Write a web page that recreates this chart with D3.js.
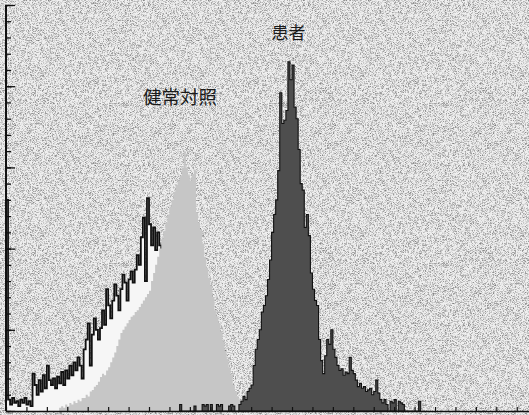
<!DOCTYPE html>
<html><head><meta charset="utf-8">
<script src="https://cdn.jsdelivr.net/npm/d3@7"></script>
<style>
html,body{margin:0;padding:0;background:#fff;}
svg{display:block;}
</style></head>
<body>
<svg id="c" width="529" height="415"></svg>
<script>
// ---- data (channel counts) ----
const channelCount = 256;
const yMax = 250;
const yTicksMinor = d3.range(0, 251, 10);
const yTicksMajor = d3.range(0, 251, 50);
const xTicks = d3.range(0, 256, 10);

const labelControl = "健常対照";
const labelPatient = "患者";

// outlined histogram (starts at channel 0)
const outlineStart = 0;
const outlineCounts = [130,7,4,8,5,6,3,7,5,8,4,6,3,23,16,10,19,12,22,14,28,19,16,20,14,21,17,24,16,25,20,28,22,30,25,33,28,20,38,44,54,28,47,57,50,44,51,62,53,75,65,57,68,78,71,62,75,84,79,68,81,86,79,87,96,90,107,119,80,131,115,102,113,99,110,102,96,95,92,85,80,72,65,55,45,35,25,15,8,4,2];

// healthy control histogram (starts at channel 26)
const controlStart = 26;
const controlCounts = [2,3,2,4,3,5,4,6,5,7,6,8,8,10,9,12,13,15,16,18,
  21,23,22,25,27,30,33,36,40,44,
  48,50,52,54,56,58,59,61,62,64,
  66,68,70,72,74,80,85,90,95,100,
  106,111,116,121,126,130,135,139,142,145,
  150,160,150,145,142,146,148,
  122,116,111,103,95,88,82,77,70,62,58,54,49,43,37,32,27,22,16,12,9,7,5,3,2];

// patient histogram (starts at channel 85)
const patientStart = 85;
const patientCounts = [4,0,0,0,0,0,0,3,0,0,0,4,3,4,0,4,0,0,4,3,4,0,0,0,3,4,3,0,0,4,6,
  9,7,12,14,16,28,38,44,50,61,65,71,81,93,110,121,130,148,196,177,179,185,215,204,213,187,180,161,140,136,113,121,108,85,75,68,65,44,31,23,34,44,41,50,38,33,28,25,26,22,24,23,33,25,23,19,15,17,14,15,12,13,14,10,12,19,11,7,
  5,7,4,0,6,5,7,0,6,5,4,0,0,0,0,0,0,0,6];

// ---- drawing ----
const W = 529, H = 415;
const svg = d3.select("#c");
const x = d3.scaleLinear().domain([0, channelCount]).range([6, 529]);
const y = d3.scaleLinear().domain([0, yMax]).range([411, 5]);

function toPoints(start, counts){
  const pts = counts.map((v,i)=>[start+i, v]);
  pts.unshift([start, 0]);
  pts.push([start+counts.length, 0]);
  return pts;
}
const area = d3.area().curve(d3.curveStepAfter).x(d=>x(d[0])).y0(y(0)).y1(d=>y(d[1]));
const line = d3.line().curve(d3.curveStepAfter).x(d=>x(d[0])).y(d=>y(d[1]));

// background with a fine speckle texture
const defs = svg.append("defs");
const f = defs.append("filter").attr("id","speck").attr("x",0).attr("y",0).attr("width","100%").attr("height","100%");
f.append("feTurbulence").attr("type","fractalNoise").attr("baseFrequency",1.6).attr("numOctaves",1).attr("seed",3).attr("result","n");
f.append("feColorMatrix").attr("in","n").attr("type","matrix")
  .attr("values","0 0 0 0 0  0 0 0 0 0  0 0 0 0 0  0 0 0 -2.4 1.35").attr("result","a");
f.append("feComposite").attr("in","a").attr("in2","SourceGraphic").attr("operator","in");

svg.append("rect").attr("width",W).attr("height",H).attr("fill","#efefef");
svg.append("rect").attr("width",W).attr("height",H).attr("fill","#999").attr("filter","url(#speck)").attr("opacity",0.55);

const outlinePts = toPoints(outlineStart, outlineCounts);
const controlPts = toPoints(controlStart, controlCounts);
const patientPts = toPoints(patientStart, patientCounts);

svg.append("path").attr("d", area(outlinePts)).attr("fill","#f6f6f6");
svg.append("path").attr("d", line(outlinePts.slice(1))).attr("fill","none").attr("stroke","#111").attr("stroke-width",1.8);
svg.append("path").attr("d", area(controlPts)).attr("fill","#c6c6c6");
svg.append("path").attr("d", area(patientPts)).attr("fill","#4e4e4e").attr("stroke","#111").attr("stroke-width",1.1);

// axes
const yAxisMinor = d3.axisRight(y).tickValues(yTicksMinor).tickSize(5).tickFormat("");
const yAxisMajor = d3.axisRight(y).tickValues(yTicksMajor).tickSize(9).tickFormat("");
const gy = svg.append("g").attr("transform","translate(6,0)").call(yAxisMinor);
const gy2 = svg.append("g").attr("transform","translate(6,0)").call(yAxisMajor);
[gy,gy2].forEach(g=>{ g.selectAll("line").attr("stroke","#111").attr("stroke-width",1.3); g.select(".domain").remove(); });
svg.append("line").attr("x1",6).attr("x2",6).attr("y1",y(yMax)).attr("y2",y(0)).attr("stroke","#111").attr("stroke-width",2);

const xAxis = d3.axisTop(x).tickValues(xTicks).tickSize(4).tickFormat("");
const gx = svg.append("g").attr("transform",`translate(0,${y(0)})`).call(xAxis);
gx.selectAll("line").attr("stroke","#111").attr("stroke-width",1.2);
gx.select(".domain").remove();
svg.append("line").attr("x1",6).attr("x2",529).attr("y1",y(0)+0.5).attr("y2",y(0)+0.5).attr("stroke","#111").attr("stroke-width",1.6);

// labels
svg.append("text").attr("x",x(67)).attr("y",104).text(labelControl)
  .attr("font-family","'Noto Sans CJK JP','Noto Sans CJK SC',sans-serif").attr("font-size",18.5).attr("fill","#1a1a1a");
svg.append("text").attr("x",x(130)).attr("y",39).text(labelPatient)
  .attr("font-family","'Noto Sans CJK JP','Noto Sans CJK SC',sans-serif").attr("font-size",17).attr("fill","#1a1a1a");
</script>
</body></html>
